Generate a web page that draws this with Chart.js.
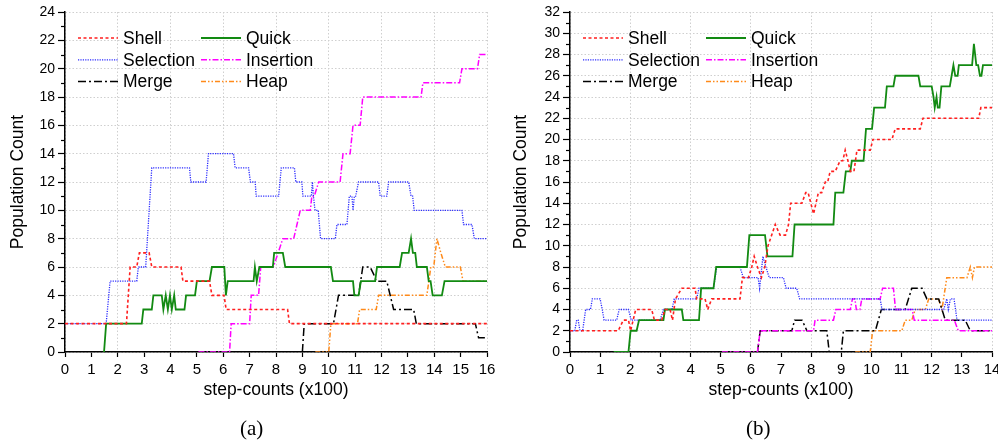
<!DOCTYPE html>
<html>
<head>
<meta charset="utf-8">
<script src="https://cdn.jsdelivr.net/npm/chart.js@4/dist/chart.umd.min.js"></script>
<style>
  html, body { margin: 0; padding: 0; background: #fff; width: 998px; height: 446px; overflow: hidden; }
  canvas { position: absolute; top: 0; }
  #chart-a { left: 0; }
  #chart-b { left: 500px; }
  .cap { position: absolute; top: 416px; line-height: 24px; font-family: "Liberation Serif", "DejaVu Serif", serif; font-size: 21px; color: #000; }
</style>
</head>
<body>
<canvas id="chart-a" width="498" height="446"></canvas>
<canvas id="chart-b" width="498" height="446"></canvas>
<div class="cap" style="left:240px">(a)</div>
<div class="cap" style="left:746px">(b)</div>
<script>
// series order as in the legend (row by row)
var SERIES = ["Shell", "Quick", "Selection", "Insertion", "Merge", "Heap"];

// panel (a): [step-counts (x100), population]
var shellA = [[0,2],[2.33,2],[2.47,6],[2.72,6],[2.82,7],[3.19,7],[3.29,6],[4.4,6],[4.47,5],[5.48,5],[5.57,4],[6.03,4],[6.11,3],[8.44,3],[8.51,2],[16,2]];
var quickA = [[1.48,0],[1.56,2],[2.91,2],[2.97,3],[3.29,3],[3.35,4],[3.67,4],[3.73,3],[3.82,4],[3.9,3],[3.98,4],[4.05,3],[4.14,4],[4.2,3],[4.53,3],[4.59,4],[4.93,4],[5.0,5],[5.48,5],[5.57,6],[6.04,6],[6.1,4],[6.17,5],[7.15,5],[7.2,6],[7.27,5],[7.37,6],[7.88,6],[7.93,7],[8.26,7],[8.35,6],[10.08,6],[10.16,5],[10.92,5],[10.97,4],[11.13,4],[11.22,5],[11.76,5],[11.83,6],[12.69,6],[12.78,7],[13.03,7],[13.12,8],[13.19,7],[13.28,7],[13.34,6],[13.72,6],[13.79,5],[13.86,5],[13.94,4],[14.29,4],[14.39,5],[16,5]];
var selectionA = [[0,2],[1.56,2],[1.71,5],[2.72,5],[2.78,6],[3.06,6],[3.29,13],[4.72,13],[4.77,12],[5.35,12],[5.44,14],[6.39,14],[6.45,13],[6.96,13],[7.03,12],[7.21,12],[7.25,11],[8.1,11],[8.2,13],[8.7,13],[8.75,12],[8.98,12],[9.02,11],[9.34,11],[9.38,12],[9.42,11],[9.48,10],[9.6,10],[9.69,8],[10.25,8],[10.31,9],[10.69,9],[10.78,11],[10.88,11],[10.92,10],[10.97,11],[11.02,11],[11.13,12],[11.89,12],[11.95,11],[12.2,11],[12.27,12],[13.03,12],[13.12,11],[13.18,11],[13.24,10],[15.05,10],[15.11,9],[15.43,9],[15.52,8],[16,8]];
var insertionA = [[5.06,0],[6.24,0],[6.3,2],[7.0,2],[7.06,4],[7.34,4],[7.42,6],[7.9,6],[8.26,8],[8.67,8],[8.92,10],[9.3,10],[9.36,11],[9.45,11],[9.62,12],[10.43,12],[10.54,14],[10.81,14],[10.92,16],[11.19,16],[11.29,18],[13.5,18],[13.57,19],[14.96,19],[15.05,20],[15.64,20],[15.72,21],[16,21]];
var mergeA = [[9.0,0],[9.07,2],[10.18,2],[10.37,4],[11.13,4],[11.29,6],[11.57,6],[11.7,5.5],[11.8,5],[12.2,5],[12.46,3],[13.22,3],[13.32,2],[15.56,2],[15.68,1],[16,1]];
var heapA = [[9.49,0],[10.0,0],[10.08,2],[11.09,2],[11.17,3],[11.8,3],[11.89,4],[13.72,4],[13.87,6],[13.98,6],[14.1,8],[14.25,7],[14.42,6],[14.99,6],[15.09,5],[16,5]];

// panel (b)
var shellB = [[0,2],[1.6,2],[1.77,3],[1.94,3],[2.01,2],[2.18,4],[2.71,4],[2.8,3],[3.04,3],[3.15,4],[3.32,4],[3.4,3],[3.5,5],[3.71,6],[4.15,6],[4.2,5],[4.48,5],[4.57,4],[4.7,5],[5.64,5],[5.72,7],[5.92,7],[6.03,8],[6.11,9],[6.22,8],[6.35,7],[6.46,8],[6.57,10],[6.81,12],[6.97,11],[7.15,11],[7.25,12],[7.32,14],[7.69,14],[7.82,15],[7.9,15],[8.08,13],[8.24,15],[8.35,15],[8.47,16],[8.55,16],[8.63,17],[8.8,17],[8.96,18],[9.05,18],[9.13,19],[9.22,18],[9.3,17],[9.42,17],[9.52,19],[9.96,19],[10.05,20],[10.68,20],[10.79,21],[11.62,21],[11.71,22],[13.56,22],[13.63,23],[14,23]];
var quickB = [[1.45,0],[1.94,0],[2.01,2],[2.21,2],[2.29,3],[3.1,3],[3.15,4],[3.71,4],[3.76,3],[4.28,3],[4.35,6],[4.76,6],[4.85,8],[5.87,8],[5.95,11],[6.47,11],[6.55,9],[7.38,9],[7.45,12],[8.74,12],[8.8,15],[9.07,15],[9.15,17],[9.3,17],[9.35,18],[9.74,18],[9.82,21],[10.02,21],[10.09,23],[10.45,23],[10.51,25],[10.73,25],[10.79,26],[11.56,26],[11.62,25],[12.0,25],[12.06,24],[12.1,23],[12.16,24],[12.2,23],[12.26,23],[12.32,25],[12.6,25],[12.66,26],[12.72,27],[12.78,26],[12.86,26],[12.9,27],[13.34,27],[13.4,29],[13.48,27],[13.54,27],[13.6,26],[13.65,26],[13.7,27],[14,27]];
var selectionB = [[0,2],[0.16,2],[0.22,3],[0.27,3],[0.33,2],[0.42,2],[0.52,4],[0.68,4],[0.74,5],[1.0,5],[1.07,4],[1.13,3],[1.55,3],[1.63,4],[1.94,4],[2.03,3],[2.99,3],[3.1,4],[3.38,4],[3.46,5],[4.2,5],[4.28,6],[4.76,6],[4.87,8],[5.64,8],[5.75,7],[6.24,7],[6.29,6],[6.4,9],[6.5,8],[6.61,7],[7.08,7],[7.17,6],[7.52,6],[7.62,5],[10.29,5],[10.35,4],[12.4,4],[12.5,5],[12.55,4],[12.62,5],[12.74,5],[12.84,3],[14,3]];
var insertionB = [[5.04,0],[6.22,0],[6.31,2],[8.08,2],[8.13,3],[8.74,3],[8.82,4],[9.3,4],[9.37,5],[9.45,5],[9.5,4],[9.62,4],[9.68,5],[10.29,5],[10.37,6],[10.73,6],[10.8,4],[11.35,4],[11.42,3],[12.75,3],[12.88,2],[14,2]];
var mergeB = [[6.22,0],[6.31,2],[7.36,2],[7.45,3],[7.7,3],[7.86,2],[8.52,2],[8.6,0],[9.0,0],[9.07,2],[10.13,2],[10.33,4],[11.12,4],[11.34,6],[11.68,6],[11.84,5],[12.23,5],[12.45,3],[13.11,3],[13.28,2],[14,2]];
var heapB = [[9.46,0],[9.96,0],[10.04,2],[11.01,2],[11.12,3],[11.34,3],[11.45,4],[11.79,4],[11.9,5],[12.23,5],[12.34,4],[12.5,7],[13.17,7],[13.28,8],[13.35,7],[13.42,8],[14,8]];

var X_TITLE = "step-counts (x100)";
var Y_TITLE = "Population Count";

var FONT = "'Liberation Sans', Arial, sans-serif";
var STYLE = {
  Shell:     { color: "#ff1f1f", width: 1.6, dash: [3, 2.5] },
  Quick:     { color: "#128a12", width: 1.8, dash: [] },
  Selection: { color: "#2b2bff", width: 1.3, dash: [1.2, 1.2] },
  Insertion: { color: "#ff00ff", width: 1.5, dash: [6, 2, 1.5, 2] },
  Merge:     { color: "#000000", width: 1.5, dash: [8, 3, 2, 3] },
  Heap:      { color: "#ff8a1a", width: 1.5, dash: [5, 2, 1.5, 2, 1.5, 2] }
};

// two-column legend drawn inside the plot, top-left
var innerLegend = {
  id: "innerLegend",
  afterDatasetsDraw: function (chart) {
    var ctx = chart.ctx, area = chart.chartArea;
    ctx.save();
    ctx.font = "17.5px " + FONT;
    ctx.textBaseline = "middle";
    chart.data.datasets.forEach(function (ds, i) {
      var x = area.left + 13 + (i % 2) * 123;
      var y = area.top + 26 + Math.floor(i / 2) * 21.8;
      ctx.strokeStyle = ds.borderColor;
      ctx.lineWidth = ds.borderWidth;
      ctx.setLineDash(ds.borderDash);
      ctx.beginPath();
      ctx.moveTo(x, y);
      ctx.lineTo(x + 40, y);
      ctx.stroke();
      ctx.setLineDash([]);
      ctx.fillStyle = "#000";
      ctx.fillText(ds.label, x + 45, y + 1);
    });
    ctx.restore();
  }
};

// short minor ticks on odd y values
var minorTicks = {
  id: "minorTicks",
  afterDraw: function (chart) {
    var s = chart.scales.y, ctx = chart.ctx;
    ctx.save();
    ctx.strokeStyle = "#000";
    ctx.lineWidth = 1.2;
    s.ticks.forEach(function (t) {
      if (t.value % 2) {
        var py = Math.round(s.getPixelForValue(t.value)) + 0.5;
        ctx.beginPath();
        ctx.moveTo(s.right - 4, py);
        ctx.lineTo(s.right, py);
        ctx.stroke();
      }
    });
    ctx.restore();
  }
};

function even(c) { return c.tick.value % 2 === 0; }

function makeChart(id, lists, xMax, yMax, yWidth, padRight, titlePad) {
  var datasets = SERIES.map(function (name, i) {
    var st = STYLE[name];
    return {
      label: name,
      data: lists[i].map(function (p) { return { x: p[0], y: p[1] }; }),
      borderColor: st.color,
      borderWidth: st.width,
      borderDash: st.dash,
      pointRadius: 0,
      fill: false,
      tension: 0
    };
  });
  return new Chart(document.getElementById(id), {
    type: "line",
    data: { datasets: datasets },
    options: {
      responsive: false,
      animation: false,
      devicePixelRatio: 1,
      layout: { padding: { top: 12, right: padRight, bottom: 30, left: 0 } },
      plugins: { legend: { display: false }, tooltip: { enabled: false } },
      scales: {
        x: {
          type: "linear", min: 0, max: xMax,
          ticks: { stepSize: 1, autoSkip: false, maxRotation: 0, color: "#000", padding: 4, font: { family: FONT, size: 15 } },
          grid: {
            color: function (c) { return even(c) ? "#cfcfcf" : "rgba(0,0,0,0)"; },
            lineWidth: 1, tickLength: 5, tickWidth: 1.2, tickColor: "#000"
          },
          border: { color: "#000", width: 1.5, dash: [1.5, 2] },
          title: { display: true, text: X_TITLE, color: "#000", font: { family: FONT, size: 17.5 }, padding: { top: 4, bottom: 15 } },
          afterFit: function (s) { s.height = 64; s.paddingLeft = 0; s.paddingRight = 0; }
        },
        y: {
          min: 0, max: yMax,
          ticks: {
            stepSize: 1, autoSkip: false, color: "#000", padding: 3, font: { family: FONT, size: 14 },
            callback: function (v) { return v % 2 === 0 ? v : ""; }
          },
          grid: {
            color: function (c) { return even(c) ? "#cfcfcf" : "rgba(0,0,0,0)"; },
            lineWidth: 1, tickLength: 7, tickWidth: 1.2,
            tickColor: function (c) { return even(c) ? "#000" : "rgba(0,0,0,0)"; }
          },
          border: { color: "#000", width: 1.5, dash: [1.5, 2] },
          title: { display: true, text: Y_TITLE, color: "#000", font: { family: FONT, size: 17.5 }, padding: { top: titlePad, bottom: 0 } },
          afterFit: function (s) { s.width = yWidth; s.paddingTop = 0; s.paddingBottom = 0; }
        }
      }
    },
    plugins: [innerLegend, minorTicks]
  });
}

makeChart("chart-a", [shellA, quickA, selectionA, insertionA, mergeA, heapA], 16, 24, 65, 11, 7.5);
makeChart("chart-b", [shellB, quickB, selectionB, insertionB, mergeB, heapB], 14, 32, 70, 6, 10.5);
</script>
</body>
</html>
